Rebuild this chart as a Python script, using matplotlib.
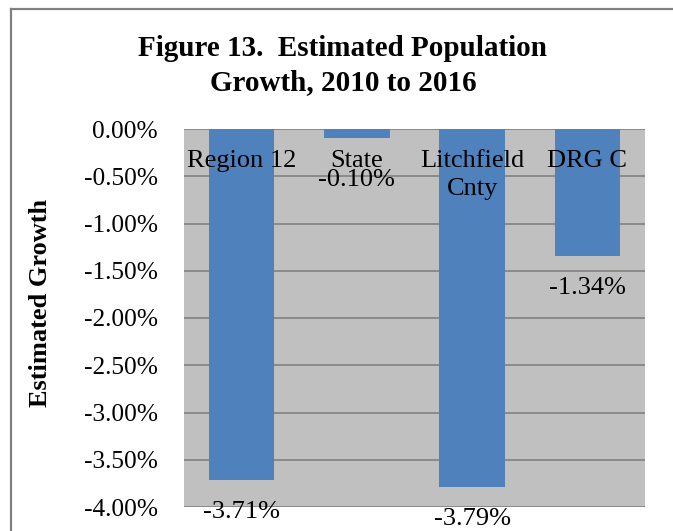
import matplotlib
matplotlib.use("Agg")
import matplotlib.pyplot as plt
from matplotlib.lines import Line2D
from matplotlib.ticker import FuncFormatter

categories = ["Region 12", "State", "Litchfield\nCnty", "DRG C"]
values = [-3.71, -0.10, -3.79, -1.34]
value_labels = ["-3.71%", "-0.10%", "-3.79%", "-1.34%"]
yticks = [0.0, -0.5, -1.0, -1.5, -2.0, -2.5, -3.0, -3.5, -4.0]

plt.rcParams['font.family'] = ['Liberation Serif', 'DejaVu Serif']

fig = plt.figure(figsize=(6.73, 5.31), dpi=100)
fig.patch.set_facecolor('white')

ax = fig.add_axes([184/673, 1-507/531, (645-184)/673, (507-129)/531])
ax.set_facecolor('#c0c0c0')
x = list(range(len(categories)))
ax.bar(x, values, width=0.57, color='#4f81bd', zorder=3)
ax.set_xlim(-0.5, len(categories) - 0.5)
ax.set_ylim(-4.0, 0.0)
ax.set_yticks(yticks)
ax.yaxis.set_major_formatter(FuncFormatter(lambda v, p: "0.00%" if v == 0 else f"{v:.2f}%"))
ax.tick_params(axis='y', length=0, pad=19, labelsize=18.3)
ax.set_xticks([])
for s in ax.spines.values():
    s.set_visible(False)
ax.grid(axis='y', color='#868686', linewidth=1.3, zorder=1)
ax.set_axisbelow(True)

for xi, cat in zip(x, categories):
    ax.annotate(cat, xy=(xi, 0), xytext=(0, -15), textcoords='offset points',
                ha='center', va='top', fontsize=19, linespacing=1.38, zorder=5)

label_offsets = [-23, -30, -23, -23]
for xi, v, lab, off in zip(x, values, value_labels, label_offsets):
    ax.annotate(lab, xy=(xi, v), xytext=(0, off), textcoords='offset points',
                ha='center', va='center', fontsize=19, zorder=6, annotation_clip=False)

fig.text(41/673, 1-303/531, "Estimated Growth", rotation=90, ha='center', va='center',
         fontsize=19, fontweight='bold')

fig.text(343/673, 1-65.5/531, "Figure 13.  Estimated Population\nGrowth, 2010 to 2016",
         ha='center', va='center', fontsize=21, fontweight='bold', linespacing=1.36)

fig.add_artist(Line2D([11.5/673, 11.5/673], [0, 1-8.5/531], transform=fig.transFigure,
                      color='#808080', linewidth=1.6))
fig.add_artist(Line2D([11.5/673, 1], [1-8.5/531, 1-8.5/531], transform=fig.transFigure,
                      color='#808080', linewidth=1.6))

fig.savefig("out.png", dpi=100)
